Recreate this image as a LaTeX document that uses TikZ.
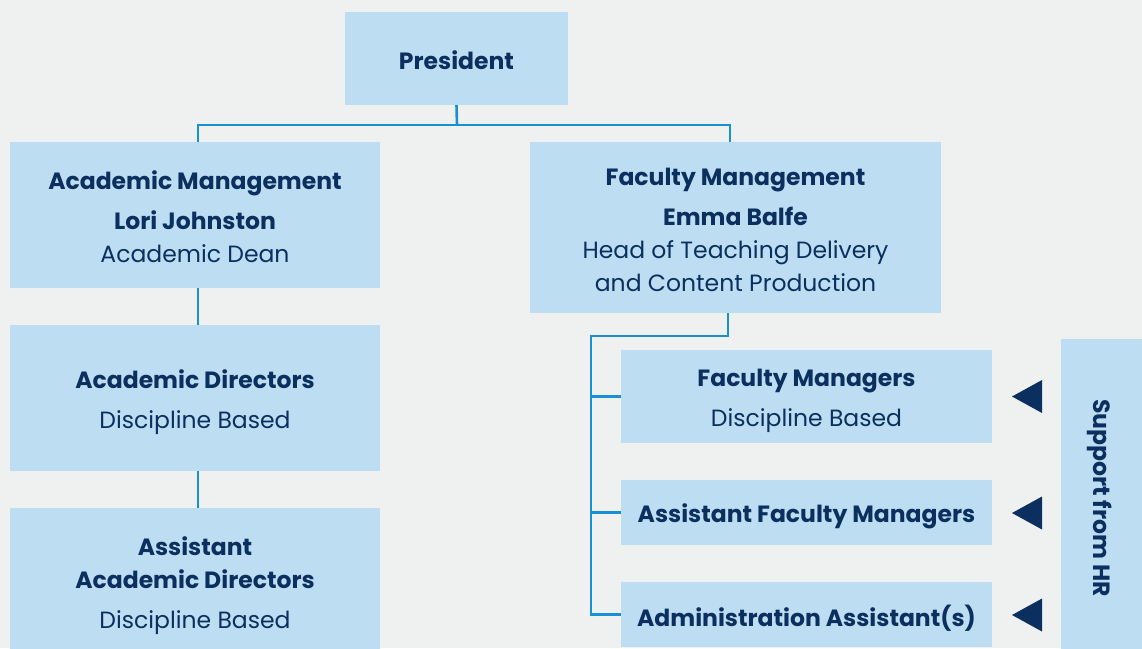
\documentclass[tikz,border=0pt]{standalone}
\usepackage{fontspec}
\setmainfont{Poppins}
\definecolor{bgc}{HTML}{EFF1F0}
\definecolor{boxc}{HTML}{BDDEF2}
\definecolor{navy}{HTML}{0B2F5F}
\definecolor{linec}{HTML}{1890D8}
\tikzset{
  box/.style={fill=boxc, draw=none, inner sep=0pt},
  txt/.style={inner sep=0pt, align=center, text=navy,
    font=\fontsize{23.5}{33}\selectfont},
  conn/.style={draw=linec, line width=2.6pt},
  marker/.style={fill=navy},
}
\newcommand{\hd}[1]{\textbf{#1}}
\begin{document}
\begin{tikzpicture}[x=1pt,y=-1pt]
  \fill[bgc] (0,0) rectangle (1142,648);
  \useasboundingbox (0,0) rectangle (1142,648);
  \clip (0,0) rectangle (1142,648);

  % boxes
  \node[box, minimum width=223pt, minimum height=93pt] (pres) at (456.5,58.5) {};
  \node[box, minimum width=370pt, minimum height=146pt] (am) at (195,215) {};
  \node[box, minimum width=411pt, minimum height=171pt] (fm) at (735.5,227.5) {};
  \node[box, minimum width=370pt, minimum height=146pt] (ad) at (195,398) {};
  \node[box, minimum width=370pt, minimum height=152pt] (aad) at (195,584) {};
  \node[box, minimum width=371pt, minimum height=93pt] (fmg) at (806.5,396.5) {};
  \node[box, minimum width=371pt, minimum height=65pt] (afm) at (806.5,512.5) {};
  \node[box, minimum width=371pt, minimum height=65pt] (aa) at (806.5,614.5) {};
  \node[box, minimum width=81pt, minimum height=321pt] (hr) at (1101.5,499.5) {};

  % box texts
  \node[txt] (prest) at ([yshift=-2pt]pres.center) {\hd{President}};
  \node[txt] (amt) at ([yshift=-2pt]am.center)
    {\hd{Academic Management}\\[7pt]\hd{Lori Johnston}\\Academic Dean};
  \node[txt] (fmt) at ([yshift=-2pt]fm.center)
    {\hd{Faculty Management}\\[7pt]\hd{Emma Balfe}\\Head of Teaching Delivery\\and Content Production};
  \node[txt] (adt) at ([yshift=-4pt]ad.center)
    {\hd{Academic Directors}\\[7pt]Discipline Based};
  \node[txt] (aadt) at ([yshift=-2pt]aad.center)
    {\hd{Assistant}\\\hd{Academic Directors}\\[7pt]Discipline Based};
  \node[txt] (fmgt) at ([yshift=-4.5pt]fmg.center)
    {\hd{Faculty Managers}\\[7pt]Discipline Based};
  \node[txt] (afmt) at ([yshift=-4pt]afm.center) {\hd{Assistant Faculty Managers}};
  \node[txt] (aat) at ([yshift=-4pt]aa.center) {\hd{Administration Assistant(s)}};
  \node[txt, font=\fontsize{23.5}{26}\selectfont\bfseries, rotate=-90] (hrt) at (1100,498) {Support from HR};

  % connectors
  \coordinate (top) at (457,125);
  \coordinate (fork) at (591,336);
  \coordinate (b1) at (591,396.5);
  \coordinate (b2) at (591,512.5);
  \coordinate (b3) at (591,614.5);
  \draw[conn] (pres.south) -- (top);
  \draw[conn] ([xshift=3pt]am.north) |- (top) -| ([xshift=-5.5pt]fm.north);
  \draw[conn] ([xshift=3pt]am.south) -- ([xshift=3pt]ad.north);
  \draw[conn] ([xshift=3pt]ad.south) -- ([xshift=3pt]aad.north);
  \draw[conn] ([xshift=-7.5pt]fm.south) |- (fork) -- (b3) -- (aa.west);
  \draw[conn] (b1) -- (fmg.west);
  \draw[conn] (b2) -- (afm.west);

  % support markers
  \fill[marker] (1012,396.5) -- (1042,380) -- (1042,413) -- cycle;
  \fill[marker] (1012,513) -- (1042,496.5) -- (1042,529.5) -- cycle;
  \fill[marker] (1012,615) -- (1042,598.5) -- (1042,631.5) -- cycle;
\end{tikzpicture}
\end{document}
